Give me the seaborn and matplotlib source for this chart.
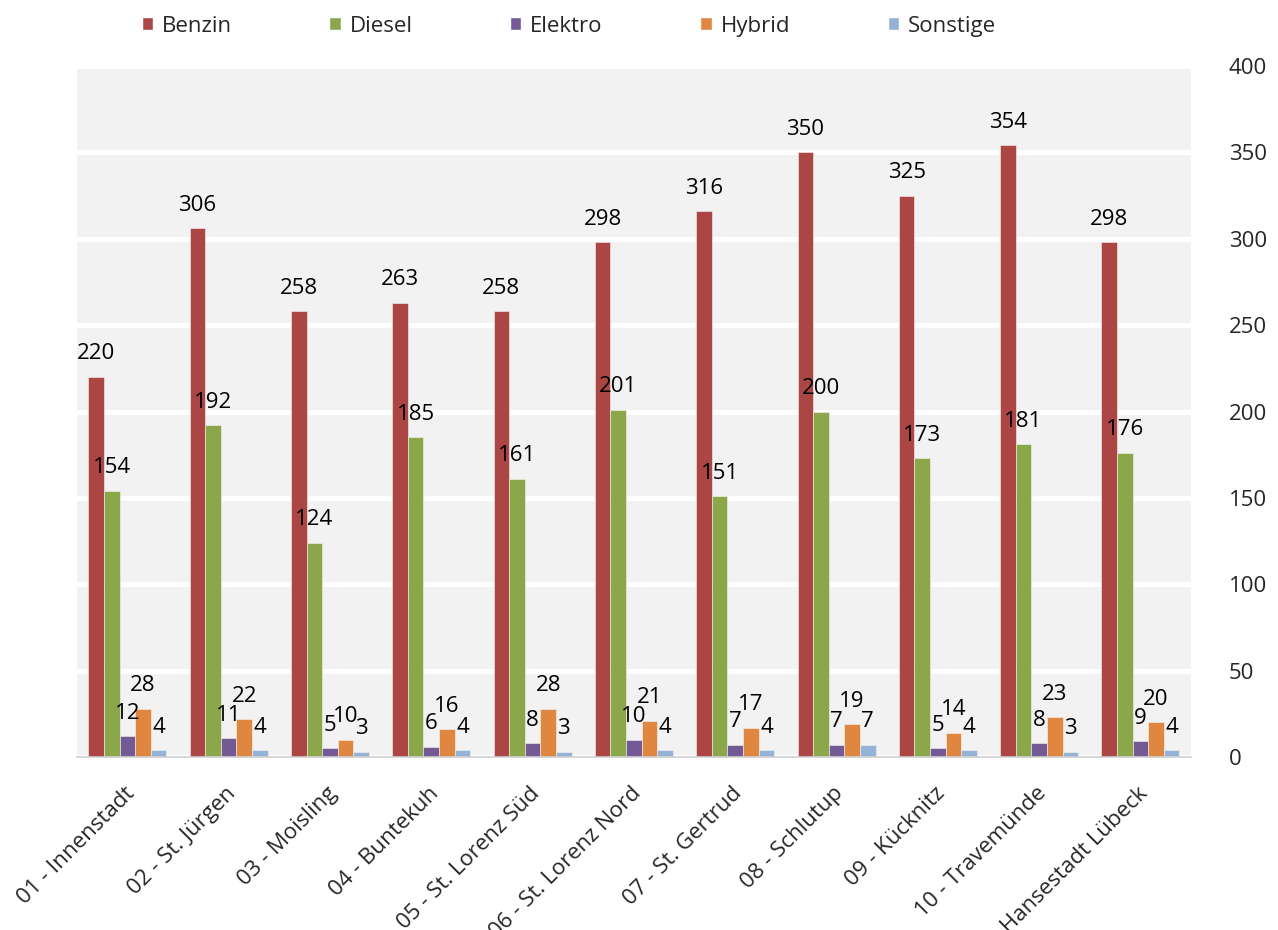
import pandas as pd
import seaborn as sns
import matplotlib.pyplot as plt
import matplotlib.transforms as mtransforms
from matplotlib.patches import Patch

districts = ["01 - Innenstadt", "02 - St. Jürgen", "03 - Moisling", "04 - Buntekuh",
             "05 - St. Lorenz Süd", "06 - St. Lorenz Nord", "07 - St. Gertrud",
             "08 - Schlutup", "09 - Kücknitz", "10 - Travemünde", "Hansestadt Lübeck"]
fuels = ["Benzin", "Diesel", "Elektro", "Hybrid", "Sonstige"]
benzin = [220, 306, 258, 263, 258, 298, 316, 350, 325, 354, 298]
diesel = [154, 192, 124, 185, 161, 201, 151, 200, 173, 181, 176]
elektro = [12, 11, 5, 6, 8, 10, 7, 7, 5, 8, 9]
hybrid = [28, 22, 10, 16, 28, 21, 17, 19, 14, 23, 20]
sonstige = [4, 4, 3, 4, 3, 4, 4, 7, 4, 3, 4]
colors = ["#ab4644", "#8ba74a", "#735a94", "#df8740", "#95b3d7"]

rows = []
for fuel, vals in zip(fuels, [benzin, diesel, elektro, hybrid, sonstige]):
    for d, v in zip(districts, vals):
        rows.append({"Stadtteil": d, "Antrieb": fuel, "Anzahl": v})
df = pd.DataFrame(rows)

sns.set_theme(style="white")
plt.rcParams["font.family"] = ["Open Sans", "DejaVu Sans"]

fig = plt.figure(figsize=(12.78, 9.3), dpi=100)
ax = fig.add_axes([0.060, 0.186, 0.872, 0.743])

sns.barplot(data=df, x="Stadtteil", y="Anzahl", hue="Antrieb", order=districts,
            hue_order=fuels, palette=colors, width=0.77, saturation=1,
            edgecolor="#f4f4f4", linewidth=0.4, legend=False, ax=ax)

for cont in ax.containers:
    ax.bar_label(cont, fontsize=16, padding=9, color="black")

ax.set_facecolor("#f2f2f2")
ax.set_ylim(0, 400)
ax.set_xlim(-0.5, len(districts) - 0.5)
ax.set_yticks(range(0, 401, 50))
ax.yaxis.tick_right()
ax.grid(axis="y", color="white", linewidth=3.6)
ax.grid(axis="x", visible=False)
ax.set_axisbelow(True)
for s in ["top", "left", "right"]:
    ax.spines[s].set_visible(False)
ax.spines["bottom"].set_color("#d0d0d0")
ax.spines["bottom"].set_linewidth(1.2)

ax.tick_params(axis="y", length=0, pad=27, labelsize=16)
ax.set_xticks(range(len(districts)))
ax.set_xticklabels(districts, rotation=45, ha="right", va="center",
                   rotation_mode="anchor", fontsize=16)
ax.tick_params(axis="x", which="major", length=0, pad=24)
shift = mtransforms.ScaledTranslation(4 / 100, 0, fig.dpi_scale_trans)
for lbl in ax.get_xticklabels():
    lbl.set_transform(lbl.get_transform() + shift)
ax.set_xticks([i - 0.5 for i in range(len(districts) + 1)], minor=True)
ax.tick_params(axis="x", which="minor", length=7, width=1.2, color="#d0d0d0")
ax.set_xlabel("")
ax.set_ylabel("")

handles = [Patch(facecolor=c, label=f) for c, f in zip(colors, fuels)]
fig.legend(handles=handles, loc="center", bbox_to_anchor=(0.445, 0.972), ncol=5,
           frameon=False, fontsize=16, handlelength=0.5, handleheight=0.5,
           handletextpad=0.4, columnspacing=4.4)

fig.savefig("out.png", dpi=100)
